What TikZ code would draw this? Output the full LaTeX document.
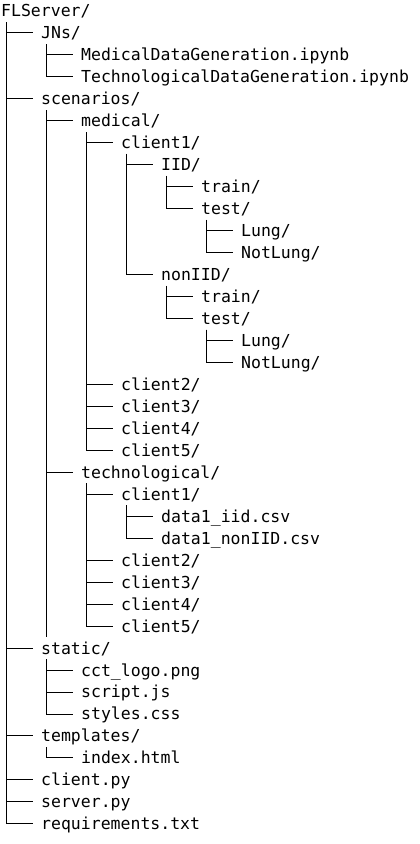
\documentclass[tikz,border=0pt]{standalone}
\usepackage{fontspec}
\setmonofont{DejaVu Sans Mono}
\tikzset{
  entry/.style={anchor=west, inner sep=0pt, minimum height=21.97pt,
    text height=12pt, text depth=0pt, font=\ttfamily\fontsize{16.5}{20}\selectfont},
  branch/.style={draw=black, line width=0.9pt}
}

\begin{document}
\begin{tikzpicture}[x=1pt, y=-21.97pt]
  \useasboundingbox (0,0) rectangle (420,38.42);
  % one row per entry, 40pt per level
  \node[entry] (fl)     at (1,0.5)   {FLServer/};
  \node[entry] (jns)    at (41,1.5)  {JNs/};
  \node[entry] (mdg)    at (81,2.5)  {MedicalDataGeneration.ipynb};
  \node[entry] (tdg)    at (81,3.5)  {TechnologicalDataGeneration.ipynb};
  \node[entry] (scen)   at (41,4.5)  {scenarios/};
  \node[entry] (med)    at (81,5.5)  {medical/};
  \node[entry] (mca)    at (121,6.5) {client1/};
  \node[entry] (iid)    at (161,7.5) {IID/};
  \node[entry] (itrain) at (201,8.5) {train/};
  \node[entry] (itest)  at (201,9.5) {test/};
  \node[entry] (ilung)  at (241,10.5) {Lung/};
  \node[entry] (inot)   at (241,11.5) {NotLung/};
  \node[entry] (niid)   at (161,12.5) {nonIID/};
  \node[entry] (ntrain) at (201,13.5) {train/};
  \node[entry] (ntest)  at (201,14.5) {test/};
  \node[entry] (nlung)  at (241,15.5) {Lung/};
  \node[entry] (nnot)   at (241,16.5) {NotLung/};
  \node[entry] (mcb)    at (121,17.5) {client2/};
  \node[entry] (mcc)    at (121,18.5) {client3/};
  \node[entry] (mcd)    at (121,19.5) {client4/};
  \node[entry] (mce)    at (121,20.5) {client5/};
  \node[entry] (tech)   at (81,21.5)  {technological/};
  \node[entry] (tca)    at (121,22.5) {client1/};
  \node[entry] (dia)    at (161,23.5) {data1\_iid.csv};
  \node[entry] (dnon)   at (161,24.5) {data1\_nonIID.csv};
  \node[entry] (tcb)    at (121,25.5) {client2/};
  \node[entry] (tcc)    at (121,26.5) {client3/};
  \node[entry] (tcd)    at (121,27.5) {client4/};
  \node[entry] (tce)    at (121,28.5) {client5/};
  \node[entry] (stat)   at (41,29.5)  {static/};
  \node[entry] (logo)   at (81,30.5)  {cct\_logo.png};
  \node[entry] (js)     at (81,31.5)  {script.js};
  \node[entry] (css)    at (81,32.5)  {styles.css};
  \node[entry] (tmpl)   at (41,33.5)  {templates/};
  \node[entry] (idx)    at (81,34.5)  {index.html};
  \node[entry] (cpy)    at (41,35.5)  {client.py};
  \node[entry] (spy)    at (41,36.5)  {server.py};
  \node[entry] (req)    at (41,37.5)  {requirements.txt};
  % parent -> child branches
  \foreach \p/\c in {fl/jns, fl/scen, fl/stat, fl/tmpl, fl/cpy, fl/spy, fl/req,
      jns/mdg, jns/tdg, scen/med, scen/tech,
      med/mca, med/mcb, med/mcc, med/mcd, med/mce,
      mca/iid, mca/niid, iid/itrain, iid/itest, itest/ilung, itest/inot,
      niid/ntrain, niid/ntest, ntest/nlung, ntest/nnot,
      tech/tca, tech/tcb, tech/tcc, tech/tcd, tech/tce, tca/dia, tca/dnon,
      stat/logo, stat/js, stat/css, tmpl/idx}
    \draw[branch] ([xshift=5pt]\p.south west) |- ([xshift=-8pt]\c.west);
  % scenarios line runs on past technological/
  \draw[branch] ([xshift=5pt]scen.south west) -- ([xshift=5pt]scen.south west |- tce.south);
\end{tikzpicture}
\end{document}
